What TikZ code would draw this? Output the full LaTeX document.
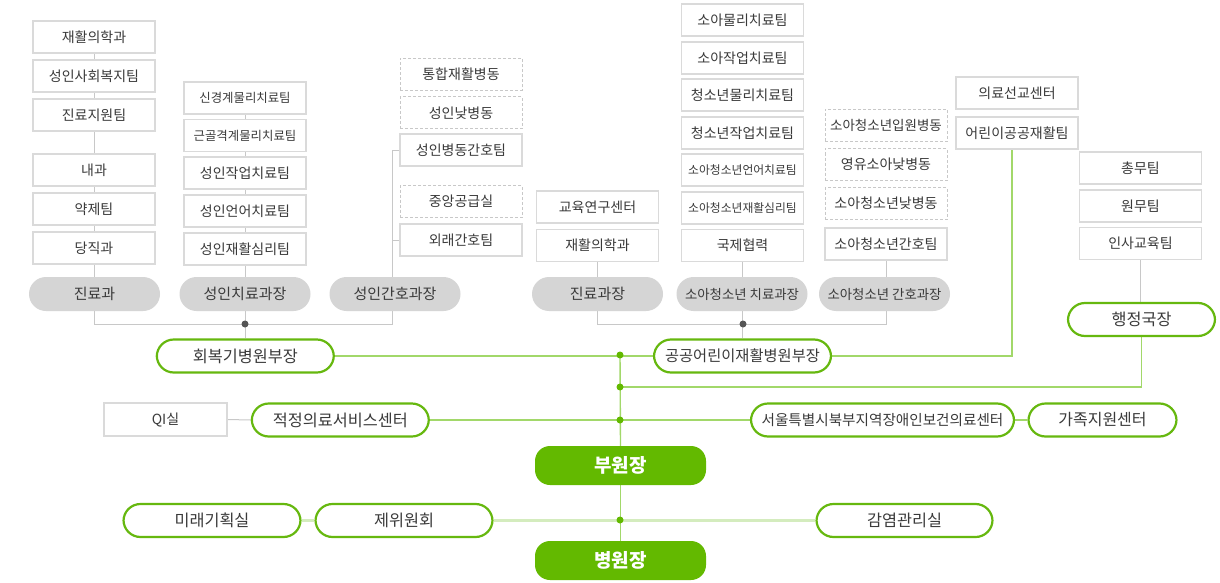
\documentclass[tikz,border=0pt]{standalone}
\usepackage{fontspec}
\setmainfont{Noto Sans CJK KR}
\pgfdeclarelayer{bg}
\pgfsetlayers{bg,main}
\definecolor{txt}{HTML}{3A3A3A}
\definecolor{bxline}{HTML}{DADADA}
\definecolor{dashc}{HTML}{C8C8C8}
\definecolor{gpfill}{HTML}{D5D5D5}
\definecolor{gline}{HTML}{C8C8C8}
\definecolor{gdotc}{HTML}{555555}
\definecolor{grn}{HTML}{66B80F}
\definecolor{grnfill}{HTML}{63B900}
\definecolor{grnline}{HTML}{A2D86A}
\definecolor{grnpale}{HTML}{D4ECBE}
\newcommand{\fsz}[1]{\fontsize{#1pt}{#1pt}\selectfont}
\begin{document}
\begin{tikzpicture}[x=1pt,y=-1pt,
  bx/.style={draw=bxline,line width=1.2pt,fill=white,minimum width=122pt,minimum height=32pt,inner sep=0pt,text=txt,font=\fsz{14}},
  dbx/.style={bx,draw=dashc,dash pattern=on 3pt off 2pt,line width=1pt},
  gp/.style={fill=gpfill,rounded corners=17pt,minimum width=131pt,minimum height=34pt,inner sep=0pt,text=txt,font=\fsz{15}},
  op/.style={draw=grn,line width=2.2pt,fill=white,rounded corners=17pt,minimum width=177pt,minimum height=33pt,inner sep=0pt,text=txt,font=\fsz{16.3}},
  fp/.style={fill=grnfill,rounded corners=15pt,minimum width=171pt,minimum height=39pt,inner sep=0pt,text=white,font=\fsz{19}\bfseries},
  gl/.style={draw=gline,line width=1pt},
  ln/.style={draw=grnline,line width=1.4pt},
  pl/.style={draw=grnpale,line width=2.2pt},
  gdot/.style={fill=gdotc},
  ndot/.style={fill=grnfill},
]
\useasboundingbox (0,0) rectangle (1220,583);

% column 1
\node[bx] (a1) at (94,37) {재활의학과};
\node[bx] (a2) at (94,76) {성인사회복지팀};
\node[bx] (a3) at (94,115) {진료지원팀};
\node[bx] (a4) at (94,170) {내과};
\node[bx] (a5) at (94,209) {약제팀};
\node[bx] (a6) at (94,248) {당직과};
\node[gp] (p1) at (94.5,294) {진료과};
% column 2
\node[bx,font=\fsz{12.4}] (b1) at (245,98) {신경계물리치료팀};
\node[bx,font=\fsz{12.4}] (b2) at (245,135.5) {근골격계물리치료팀};
\node[bx] (b3) at (245,173) {성인작업치료팀};
\node[bx] (b4) at (245,211) {성인언어치료팀};
\node[bx] (b5) at (245,249) {성인재활심리팀};
\node[gp] (p2) at (245,294) {성인치료과장};
% column 3
\node[dbx] (c1) at (461,74.5) {통합재활병동};
\node[dbx] (c2) at (461,113) {성인낮병동};
\node[bx] (c3) at (461,150) {성인병동간호팀};
\node[dbx] (c4) at (461,201.5) {중앙공급실};
\node[bx] (c5) at (461,240) {외래간호팀};
\node[gp] (p3) at (395,294) {성인간호과장};
% column 4
\node[bx] (d1) at (597.5,207) {교육연구센터};
\node[bx] (d2) at (597.5,245.5) {재활의학과};
\node[gp] (p4) at (597.5,294) {진료과장};
% column 5
\node[bx] (e1) at (742.5,20) {소아물리치료팀};
\node[bx] (e2) at (742.5,58) {소아작업치료팀};
\node[bx] (e3) at (742.5,95) {청소년물리치료팀};
\node[bx] (e4) at (742.5,133) {청소년작업치료팀};
\node[bx,font=\fsz{11.8}] (e5) at (742.5,170) {소아청소년언어치료팀};
\node[bx,font=\fsz{11.8}] (e6) at (742.5,208) {소아청소년재활심리팀};
\node[bx] (e7) at (742.5,245.5) {국제협력};
\node[gp,font=\fsz{13.4}] (p5) at (742,294) {소아청소년 치료과장};
% column 6
\node[dbx,font=\fsz{13.5}] (f1) at (886,125.5) {소아청소년입원병동};
\node[dbx] (f2) at (886,164.5) {영유소아낮병동};
\node[dbx] (f3) at (886,203.5) {소아청소년낮병동};
\node[bx] (f4) at (886,244) {소아청소년간호팀};
\node[gp,font=\fsz{13.4}] (p6) at (884.5,294) {소아청소년 간호과장};
% right top
\node[bx] (s1) at (1017,93) {의료선교센터};
\node[bx] (s2) at (1017,133) {어린이공공재활팀};
\node[bx] (h1) at (1140.5,168) {총무팀};
\node[bx] (h2) at (1140.5,206) {원무팀};
\node[bx] (h3) at (1140.5,243.5) {인사교육팀};
\node[op,minimum width=147pt] (hp) at (1141.5,319.5) {행정국장};
% lower part
\node[op] (hb) at (245.3,356) {회복기병원부장};
\node[op,font=\fsz{15.3}] (kb) at (742.5,356) {공공어린이재활병원부장};
\node[bx,minimum width=123pt,minimum height=33pt] (qi) at (165.5,419.5) {QI실};
\node[op] (jj) at (340.3,420) {적정의료서비스센터};
\node[op,minimum width=263pt,font=\fsz{14.6}] (sw) at (882.5,420) {서울특별시북부지역장애인보건의료센터};
\node[op,minimum width=148pt,font=\fsz{16}] (ga) at (1102.5,420) {가족지원센터};
\node[fp] (bu) at (620.5,465.5) {부원장};
\node[op] (mr) at (212,520.5) {미래기획실};
\node[op] (je) at (404,520.5) {제위원회};
\node[op,minimum width=176pt] (gm) at (904.5,520.5) {감염관리실};
\node[fp] (bw) at (620.5,560.5) {병원장};

% junction coordinates
\coordinate (jL) at (245,324);
\coordinate (jR) at (743,324);
\coordinate (v3) at (392,324);
\coordinate (m1) at (620,355);
\coordinate (m2) at (620,387);
\coordinate (m3) at (620,420);
\coordinate (m4) at (620,520);

\begin{pgfonlayer}{bg}
\fill[white] (0,0) rectangle (1220,583);
% gray connectors
\draw[gl] (a1.center) |- (jL);
\draw[gl] (b1.center) -- (b1.center |- hb.north);
\draw[gl] (c3.west) -| (v3) -- (jL);
\draw[gl] (c5.west) -- (c5.west -| v3);
\draw[gl] (d2.center) |- (jR);
\draw[gl] (e7.center) -- (e7.center |- kb.north);
\draw[gl] (f4.center) |- (jR);
\draw[gl] (h3.center) -- (h3.center |- hp.north);
\draw[gl] (qi.east) -- (jj.west);
% green connectors
\draw[ln] (hb.east) -- (kb.west);
\draw[ln] (kb.east) -| ([xshift=-5pt]s2.south);
\draw[ln] (m2) -| (hp.south);
\draw[ln] (jj.east) -- (sw.west);
\draw[ln] (sw.east) -- (ga.west);
\draw[pl] (mr.east) -- (je.west);
\draw[pl] (je.east) -- (gm.west);
\draw[ln] (m1) -- (bu.north);
\draw[ln] (bu.south) -- (bw.north);
\end{pgfonlayer}

\fill[gdot] (jL) circle[radius=3.5pt];
\fill[gdot] (jR) circle[radius=3.5pt];
\fill[ndot] (m1) circle[radius=3.5pt];
\fill[ndot] (m2) circle[radius=3.5pt];
\fill[ndot] (m3) circle[radius=3.5pt];
\fill[ndot] (m4) circle[radius=3.5pt];
\end{tikzpicture}
\end{document}
